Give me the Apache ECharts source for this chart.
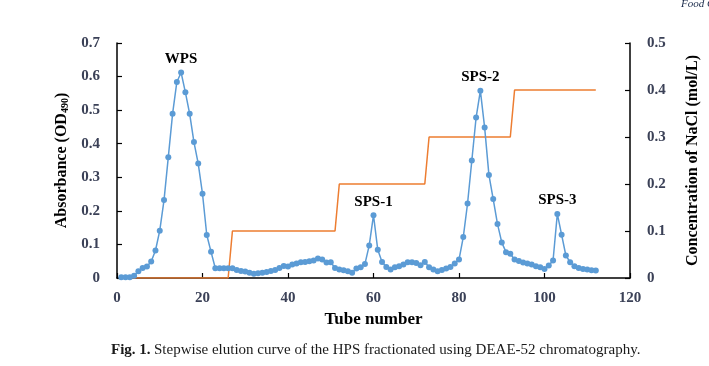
<!DOCTYPE html>
<html>
<head>
<meta charset="utf-8">
<script src="https://cdn.jsdelivr.net/npm/echarts@6/dist/echarts.min.js"></script>
<style>
html,body{margin:0;padding:0;background:#fff;}
#chart{width:709px;height:366px;}
</style>
</head>
<body>
<div id="chart"></div>
<script>
// Tube numbers 1..112
var tubes = [];
for (var i = 1; i <= 112; i++) tubes.push(i);
// Absorbance (OD490) per tube
var absorbance = [
  0.002,0.002,0.002,0.007,0.020,0.030,0.034,0.049,0.082,0.141,
  0.232,0.360,0.489,0.584,0.612,0.553,0.489,0.405,0.341,0.251,
  0.128,0.078,0.029,0.029,0.029,0.029,0.029,0.024,0.021,0.019,
  0.016,0.013,0.014,0.016,0.018,0.021,0.024,0.030,0.036,0.034,
  0.040,0.043,0.047,0.048,0.050,0.052,0.058,0.055,0.046,0.047,
  0.030,0.025,0.023,0.020,0.016,0.028,0.032,0.042,0.097,0.187,
  0.084,0.048,0.033,0.025,0.032,0.035,0.040,0.047,0.047,0.045,
  0.038,0.048,0.032,0.025,0.020,0.024,0.028,0.033,0.043,0.055,
  0.122,0.222,0.350,0.478,0.558,0.448,0.307,0.235,0.161,0.106,
  0.077,0.072,0.055,0.051,0.046,0.043,0.040,0.035,0.032,0.027,
  0.037,0.052,0.191,0.129,0.067,0.047,0.035,0.030,0.027,0.025,
  0.023,0.022
];
// NaCl step gradient
var concTubes = [1, 26, 27, 51, 52, 72, 73, 92, 93, 112];
var concValues = [0, 0, 0.1, 0.1, 0.2, 0.2, 0.3, 0.3, 0.4, 0.4];
// Peak names
var peakTubes = [15, 60, 85, 103];
var peakNames = ['WPS', 'SPS-1', 'SPS-2', 'SPS-3'];
// Tick labels
var xTicks = [0, 20, 40, 60, 80, 100, 120];
var yLeftTicks = [0, 0.1, 0.2, 0.3, 0.4, 0.5, 0.6, 0.7];
var yRightTicks = [0, 0.1, 0.2, 0.3, 0.4, 0.5];

var serif = '"Liberation Serif","Times New Roman",serif';
var tickColor = '#3b4157';

var blueData = tubes.map(function (t, i) {
  var k = peakTubes.indexOf(t);
  if (k >= 0) {
    return {
      value: [t, absorbance[i]],
      label: {
        show: true, position: 'top', distance: 3,
        formatter: peakNames[k],
        fontFamily: serif, fontWeight: 'bold', fontSize: 15, color: '#000'
      }
    };
  }
  return [t, absorbance[i]];
});
var orangeData = concTubes.map(function (t, i) { return [t, concValues[i]]; });

var chart = echarts.init(document.getElementById('chart'), null, {renderer: 'canvas'});
var axisLine = {show: true, lineStyle: {color: '#000', width: 1.5}};
chart.setOption({
  animation: false,
  backgroundColor: '#fff',
  title: [
    {
      text: 'Fig. 1.', left: 106, top: 338,
      textStyle: {fontFamily: serif, fontSize: 15, fontWeight: 'bold', color: '#1a1a1a'}
    },
    {
      text: 'Stepwise elution curve of the HPS fractionated using DEAE-52 chromatography.',
      left: 149, top: 338,
      textStyle: {fontFamily: serif, fontSize: 15, fontWeight: 'normal', color: '#1a1a1a'}
    },
    {
      text: 'Food C', left: 676, top: -6,
      textStyle: {fontFamily: serif, fontSize: 11, fontStyle: 'italic', fontWeight: 'normal', color: '#1a2a4a'}
    }
  ],
  grid: {left: 117, right: 78, top: 43, bottom: 88, containLabel: false},
  xAxis: {
    type: 'value', min: xTicks[0], max: xTicks[xTicks.length - 1], interval: 20,
    name: 'Tube number', nameLocation: 'middle', nameGap: 33,
    nameTextStyle: {fontFamily: serif, fontSize: 17, fontWeight: 'bold', color: '#000'},
    axisLine: axisLine,
    axisTick: {show: true, inside: true, length: 5, lineStyle: {color: '#000', width: 1.2}},
    axisLabel: {fontFamily: serif, fontSize: 15, fontWeight: 'bold', color: tickColor, margin: 13},
    splitLine: {show: false}
  },
  yAxis: [
    {
      type: 'value', min: yLeftTicks[0], max: yLeftTicks[yLeftTicks.length - 1], interval: 0.1,
      name: '{a|Absorbance (OD}{s|490}{a|)}', nameLocation: 'middle', nameGap: 44, nameRotate: 90,
      nameTextStyle: {
        rich: {
          a: {fontFamily: serif, fontSize: 16, fontWeight: 'bold', color: '#000'},
          s: {fontFamily: serif, fontSize: 10, fontWeight: 'bold', color: '#000', verticalAlign: 'bottom', padding: [6, 0, 0, 0]}
        }
      },
      axisLine: axisLine,
      axisTick: {show: true, inside: true, length: 5, lineStyle: {color: '#000', width: 1.2}},
      axisLabel: {fontFamily: serif, fontSize: 15, fontWeight: 'bold', color: tickColor, margin: 17,
        formatter: function (v) { return v === 0 ? '0' : v.toFixed(1); }},
      splitLine: {show: false}
    },
    {
      type: 'value', min: yRightTicks[0], max: yRightTicks[yRightTicks.length - 1], interval: 0.1,
      position: 'right',
      name: 'Concentration of NaCl (mol/L)', nameLocation: 'middle', nameGap: 55, nameRotate: 90,
      nameTextStyle: {fontFamily: serif, fontSize: 16, fontWeight: 'bold', color: '#000'},
      axisLine: axisLine,
      axisTick: {show: true, inside: true, length: 5, lineStyle: {color: '#000', width: 1.2}},
      axisLabel: {fontFamily: serif, fontSize: 15, fontWeight: 'bold', color: tickColor, margin: 17,
        formatter: function (v) { return v === 0 ? '0' : v.toFixed(1); }},
      splitLine: {show: false}
    }
  ],
  series: [
    {
      type: 'line', yAxisIndex: 1, data: orangeData,
      symbol: 'none', lineStyle: {color: '#ED7D31', width: 1.5}, z: 2
    },
    {
      type: 'line', yAxisIndex: 0, data: blueData,
      symbol: 'circle', symbolSize: 6,
      itemStyle: {color: '#5B9BD5'},
      lineStyle: {color: '#5B9BD5', width: 1.5}, z: 3
    }
  ]
});
</script>
</body>
</html>
